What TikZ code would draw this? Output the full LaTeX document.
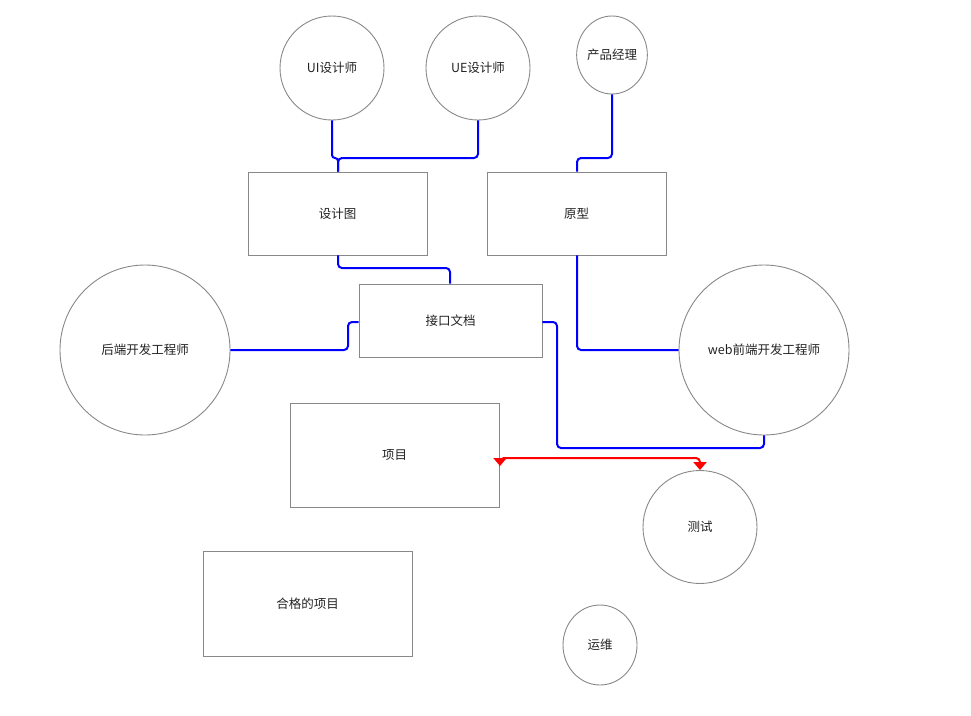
\documentclass[tikz,border=0pt]{standalone}
\usepackage{fontspec}
\setmainfont{Noto Sans CJK SC}
\usetikzlibrary{arrows.meta,calc,shapes.geometric}
\definecolor{edge}{HTML}{888888}
\definecolor{txt}{HTML}{222222}
\definecolor{bl}{HTML}{0000FF}
\definecolor{rd}{HTML}{FF0000}
\begin{document}
\begin{tikzpicture}[x=1pt,y=-1pt,
  every node/.style={font=\fontsize{12.5}{14}\selectfont, text=txt},
  box/.style={draw=edge, line width=0.9pt, rectangle, inner sep=0pt},
  circ/.style={draw=edge, line width=0.9pt, ellipse, inner sep=0pt},
  wire/.style={draw=bl, line width=2pt, rounded corners=4pt},
  redwire/.style={draw=rd, line width=2pt, rounded corners=4pt},
]
\useasboundingbox (0,0) rectangle (971,715);
% circles
\node[circ, minimum width=104pt, minimum height=104pt] (ui) at (332,68) {UI设计师};
\node[circ, minimum width=104pt, minimum height=104pt] (ue) at (478,68) {UE设计师};
\node[circ, minimum width=63pt, minimum height=78pt] (pm) at (612,55) {产品经理};
\node[circ, minimum width=170pt, minimum height=170pt] (be) at (145,350) {后端开发工程师};
\node[circ, minimum width=170pt, minimum height=170pt] (fe) at (764,350) {web前端开发工程师};
\node[circ, minimum width=114pt, minimum height=113pt] (qa) at (700,527) {测试};
\node[circ, minimum width=74pt, minimum height=80pt] (ops) at (600,645) {运维};
% boxes
\node[box, minimum width=179pt, minimum height=83pt] (design) at (337.5,213.5) {设计图};
\node[box, minimum width=179pt, minimum height=83pt] (proto) at (576.5,213.5) {原型};
\node[box, minimum width=183pt, minimum height=73pt] (api) at (450.5,320.5) {接口文档};
\node[box, minimum width=209pt, minimum height=104pt] (proj) at (394.5,455) {项目};
\node[box, minimum width=209pt, minimum height=105pt] (good) at (307.5,603.5) {合格的项目};
% blue connectors
\draw[wire, rounded corners=3pt] (ui.south) -- (332,158) -- (338,158) -- (design.north -| 338,0);
\draw[wire] (ue.south) -- (478,158) -- (338,158) -- (design.north -| 338,0);
\draw[wire] (design.south -| 338,0) -- (338,268) -- (450,268) -- (api.north -| 450,0);
\draw[wire] (be.east) -- (348,350) -- (348,322) -- (api.west |- 0,322);
\draw[wire] (pm.south) -- (612,158) -- (577,158) -- (proto.north -| 577,0);
\draw[wire] (proto.south -| 577,0) -- (577,350) -- (fe.west);
\draw[wire] (api.east |- 0,322) -- (557,322) -- (557,448) -- (764,448) -- (fe.south);
% red connector
\coordinate (rs) at (500,466);
\draw[redwire, {Triangle[width=13pt,length=8pt]}-{Triangle[width=13pt,length=8pt]}] (rs) -- (500,458) -- (700,458) -- (qa.north);
\end{tikzpicture}
\end{document}
